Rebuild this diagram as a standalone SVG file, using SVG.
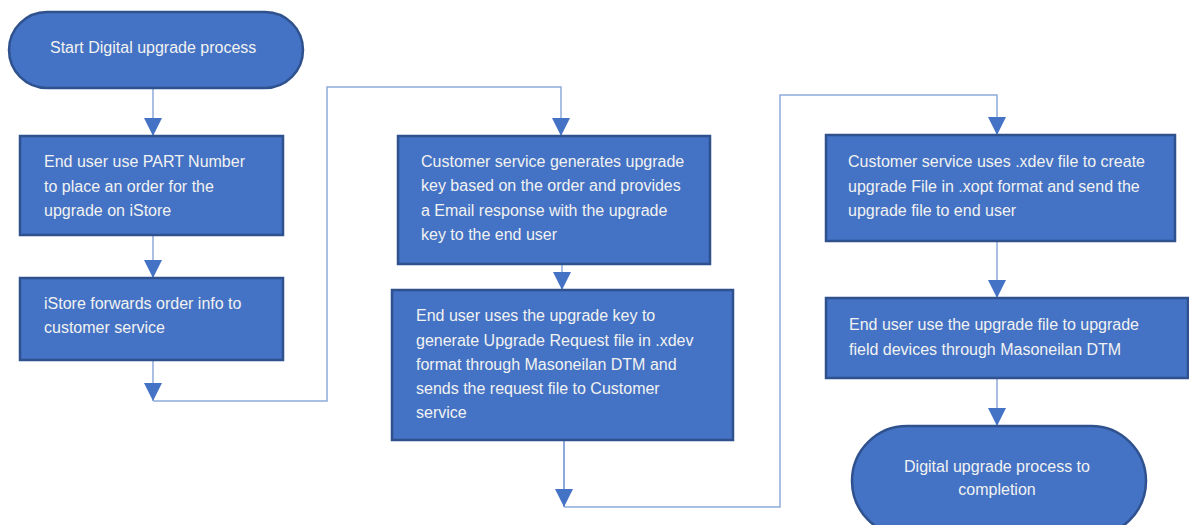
<svg xmlns="http://www.w3.org/2000/svg" width="1189" height="525" viewBox="0 0 1189 525">
<defs>
<marker id="arr" markerUnits="userSpaceOnUse" markerWidth="18" markerHeight="18" refX="18" refY="9" orient="auto">
<path d="M0,0 L18,9 L0,18 z" fill="#4472C4"/>
</marker>
<style>
.box{fill:#4472C4;stroke:#2F528F;stroke-width:2.5}
.t{font-family:"Liberation Sans",Arial,sans-serif;font-size:16px;fill:#F2F2F2}
.c{text-anchor:middle}
.ln{fill:none;stroke:#8FAADC;stroke-width:1.5}
.sq{stroke:#4472C4;stroke-width:1.2}
</style>
</defs>
<rect width="1189" height="525" fill="#FFFFFF"/>
<g id="connectors">
<path class="ln" d="M153,88 V136" marker-end="url(#arr)"/>
<path class="ln" d="M153,235 V278" marker-end="url(#arr)"/>
<path class="ln" d="M153,360 V401" marker-end="url(#arr)"/>
<path class="ln" d="M153,401 H327 V87 H561 V136" marker-end="url(#arr)"/>
<path class="ln" d="M562,264 V290" marker-end="url(#arr)"/>
<path class="ln" d="M564,440 V507" marker-end="url(#arr)" style="stroke:#4472C4;stroke-width:1.2"/>
<path class="ln" d="M564,507 H780 V95 H997 V135" marker-end="url(#arr)"/>
<path class="ln" d="M997,241 V298" marker-end="url(#arr)"/>
<path class="ln" d="M997,378 V426" marker-end="url(#arr)"/>
</g>
<g id="start">
<rect class="box" x="9" y="12" width="294" height="76" rx="38" ry="38"/>
<text class="t" x="50" y="53">Start Digital upgrade process</text>
</g>
<g id="order">
<rect class="box" x="20" y="136" width="263" height="99"/>
<text class="t" x="44" y="167">End user use PART Number</text>
<text class="t" x="44" y="191.5">to place an order for the</text>
<text class="t" x="44" y="216">upgrade on iStore</text>
</g>
<g id="forward">
<rect class="box" x="20" y="278" width="263" height="82"/>
<text class="t" x="44" y="309">iStore forwards order info to</text>
<text class="t" x="44" y="333">customer service</text>
</g>
<g id="genkey">
<rect class="box" x="398" y="136" width="312" height="128"/>
<text class="t" x="421" y="167">Customer service generates upgrade</text>
<text class="t" x="421" y="191">key based on the order and provides</text>
<text class="t" x="421" y="216">a Email response with the upgrade</text>
<text class="t" x="421" y="240">key to the end user</text>
<line class="sq" x1="421" y1="219" x2="430" y2="219"/>
</g>
<g id="request">
<rect class="box" x="392" y="290" width="341" height="150"/>
<text class="t" x="416" y="321">End user uses the upgrade key to</text>
<text class="t" x="416" y="345.5">generate Upgrade Request file in .xdev</text>
<text class="t" x="416" y="370">format through Masoneilan DTM and</text>
<text class="t" x="416" y="394">sends the request file to Customer</text>
<text class="t" x="416" y="418">service</text>
<line class="sq" x1="641" y1="349" x2="696" y2="349"/>
</g>
<g id="createfile">
<rect class="box" x="826" y="135" width="349" height="106"/>
<text class="t" x="848" y="167">Customer service uses .xdev file to create</text>
<text class="t" x="848" y="192">upgrade File in .xopt format and send the</text>
<text class="t" x="848" y="216">upgrade file to end user</text>
<line class="sq" x1="942" y1="195" x2="996" y2="195"/>
</g>
<g id="upgrade">
<rect class="box" x="826" y="298" width="362" height="80"/>
<text class="t" x="849" y="330">End user use the upgrade file to upgrade</text>
<text class="t" x="849" y="355">field devices through Masoneilan DTM</text>
</g>
<g id="end">
<rect class="box" x="852" y="426" width="294" height="110" rx="55" ry="55"/>
<text class="t c" x="997" y="472">Digital upgrade process to</text>
<text class="t c" x="997" y="495">completion</text>
</g>
</svg>
